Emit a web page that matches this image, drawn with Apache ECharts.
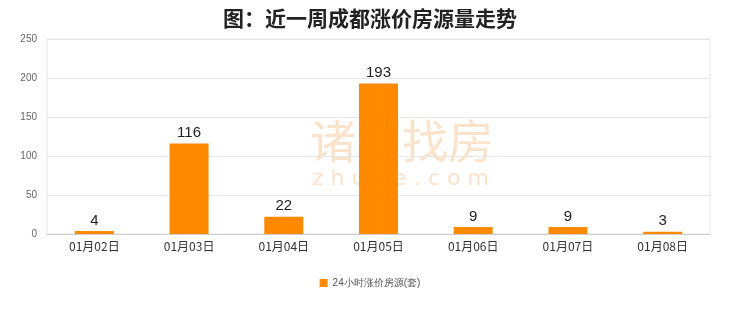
<!DOCTYPE html>
<html><head><meta charset="utf-8">
<script src="https://cdn.jsdelivr.net/npm/echarts@6/dist/echarts.min.js"></script>
<style>html,body{margin:0;padding:0;background:#fff}#c{width:740px;height:312px}</style>
</head><body><div id="c"></div>
<script>
const titleText = '图：近一周成都涨价房源量走势';
const categories = ['01月02日','01月03日','01月04日','01月05日','01月06日','01月07日','01月08日'];
const values = [4, 116, 22, 193, 9, 9, 3];
const seriesName = '24小时涨价房源(套)';
const yTicks = {min: 0, max: 250, interval: 50};

const chart = echarts.init(document.getElementById('c'));
chart.setOption({
  animation: false,
  title: {text: titleText, left: 'center', top: 3,
    textStyle: {fontSize: 21, fontWeight: 'bold', color: '#222', fontFamily: 'Noto Sans CJK SC'}},
  graphic: [
    {type: 'text', left: 310, top: 118, z: -1, style: {text: '诸葛找房', fontSize: 46, fill: 'rgba(246,190,140,0.45)', fontFamily: 'Noto Sans CJK SC'}},
    {type: 'text', left: 312, top: 168, z: -1, style: {text: 'z h u g e . c o m', fontSize: 22, fill: 'rgba(246,190,140,0.45)', fontFamily: 'DejaVu Sans'}}
  ],
  grid: {left: 47, right: 30, top: 39, bottom: 78, show: true, borderColor: '#e6e6e6', borderWidth: 1},
  legend: {bottom: 19, left: 'center', itemWidth: 8, itemHeight: 8, icon: 'rect',
    textStyle: {fontSize: 10, color: '#555'}, data: [seriesName]},
  xAxis: {type: 'category', data: categories,
    axisLine: {lineStyle: {color: '#ccc'}}, axisTick: {show: false},
    axisLabel: {color: '#333', fontSize: 12, margin: 6, fontFamily: 'Noto Sans CJK SC'}},
  yAxis: {type: 'value', min: yTicks.min, max: yTicks.max, interval: yTicks.interval,
    axisLine: {show: false}, axisTick: {show: false},
    axisLabel: {color: '#666', fontSize: 10, margin: 10},
    splitLine: {lineStyle: {color: '#e6e6e6'}}},
  series: [{name: seriesName, type: 'bar', data: values, barWidth: 39,
    itemStyle: {color: '#FF8A00'},
    label: {show: true, position: 'top', color: '#222', fontSize: 15, distance: 3}}]
});
</script></body></html>
